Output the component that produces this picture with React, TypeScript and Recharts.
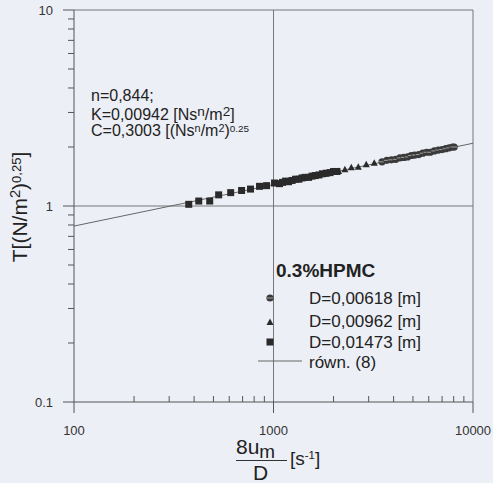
import { ScatterChart, Scatter, XAxis, YAxis, ReferenceLine } from 'recharts';

// D = 0,01473 m
const SQ_X = [376, 422, 479, 531, 610, 692, 767, 851, 923, 1012, 1072, 1110, 1150, 1190, 1240, 1290, 1340, 1390, 1440, 1500, 1560, 1620, 1690, 1760, 1840, 1920, 2000, 2080];
const SQ_T = [1.02, 1.06, 1.06, 1.14, 1.17, 1.2, 1.22, 1.26, 1.27, 1.31, 1.3, 1.32, 1.34, 1.33, 1.35, 1.37, 1.37, 1.39, 1.4, 1.4, 1.42, 1.43, 1.44, 1.46, 1.47, 1.48, 1.5, 1.5];

// D = 0,00962 m
const TRI_X = [1650, 1800, 1950, 2120, 2280, 2455, 2661, 2917, 3199];
const TRI_T = [1.44, 1.46, 1.49, 1.51, 1.54, 1.576, 1.587, 1.632, 1.663];

// D = 0,00618 m
const CIR_X = [3500, 3700, 3900, 4100, 4300, 4500, 4700, 4900, 5100, 5350, 5600, 5850, 6100, 6400, 6700, 7000, 7300, 7600, 7900, 8050];
const CIR_T = [1.68, 1.71, 1.72, 1.73, 1.76, 1.77, 1.78, 1.81, 1.82, 1.83, 1.86, 1.88, 1.88, 1.91, 1.93, 1.94, 1.96, 1.98, 2.0, 2.0];

// równ. (8)
const FIT_X = [100, 10000];
const FIT_T = [0.79, 2.09];

const X_TICKS = [100, 200, 300, 400, 500, 600, 700, 800, 900, 1000, 2000, 3000, 4000, 5000, 6000, 7000, 8000, 9000, 10000];
const X_MAJOR = [100, 1000, 10000];
const Y_TICKS = [0.1, 0.2, 0.3, 0.4, 0.5, 0.6, 0.7, 0.8, 0.9, 1, 2, 3, 4, 5, 6, 7, 8, 9, 10];
const Y_MAJOR = [0.1, 1, 10];

const zip = (xs: number[], ys: number[]) => xs.map((x, i) => ({ x, y: ys[i] }));

const FONT = 'Arial, "Liberation Sans", sans-serif';
const INK = '#2a2a2a';
const AXIS = '#555';

const XTick = (props: any) => {
  const { x, y, payload } = props;
  const major = X_MAJOR.includes(payload.value);
  return (
    <g>
      <line x1={x} x2={x} y1={y} y2={major ? y + 11 : y - 6} stroke={AXIS} strokeWidth={1} />
      {major && (
        <text x={x} y={y + 33} textAnchor="middle" fontSize={13} fontFamily={FONT} fill="#333">
          {payload.value}
        </text>
      )}
    </g>
  );
};

const YTick = (props: any) => {
  const { x, y, payload } = props;
  const major = Y_MAJOR.includes(payload.value);
  return (
    <g>
      <line x1={major ? x - 11 : x - 6} x2={x} y1={y} y2={y} stroke={AXIS} strokeWidth={1} />
      {major && (
        <text x={x - 21} y={y + 5} textAnchor="end" fontSize={13} fontFamily={FONT} fill="#333">
          {payload.value}
        </text>
      )}
    </g>
  );
};

const Square = (p: any) => <rect x={p.cx - 3.5} y={p.cy - 3.5} width={7} height={7} fill={INK} />;
const Triangle = (p: any) => (
  <polygon points={`${p.cx},${p.cy - 3.5} ${p.cx - 3.5},${p.cy + 3} ${p.cx + 3.5},${p.cy + 3}`} fill={INK} />
);
const Circle = (p: any) => (
  <g>
    <circle cx={p.cx} cy={p.cy} r={3.6} fill="#3a3a3a" />
    <line x1={p.cx - 3} x2={p.cx + 3} y1={p.cy} y2={p.cy} stroke="#bbb" strokeWidth={0.8} />
  </g>
);
const NoDot = () => null;

const abs = (left: number, top: number, extra: any = {}) => ({
  position: 'absolute' as const,
  left,
  top,
  lineHeight: 1,
  whiteSpace: 'nowrap' as const,
  color: '#222',
  ...extra,
});

// raised text that does not grow the line box
const up = (size: string, lift: string) => ({ fontSize: size, position: 'relative' as const, top: lift });

export default function App() {
  return (
    <div style={{ position: 'absolute', left: 0, top: 0, width: 493, height: 483, background: '#edeff6', fontFamily: FONT, overflow: 'hidden' }}>
      <ScatterChart width={493} height={483} margin={{ top: 10, right: 20, bottom: 0, left: 0 }}>
        <XAxis
          dataKey="x"
          type="number"
          scale="log"
          domain={[100, 10000]}
          ticks={X_TICKS}
          interval={0}
          allowDataOverflow
          height={81}
          tickSize={0}
          tickMargin={0}
          tickLine={false}
          tick={<XTick />}
          axisLine={{ stroke: AXIS }}
        />
        <YAxis
          dataKey="y"
          type="number"
          scale="log"
          domain={[0.1, 10]}
          ticks={Y_TICKS}
          interval={0}
          allowDataOverflow
          width={74}
          tickSize={0}
          tickMargin={0}
          tickLine={false}
          tick={<YTick />}
          axisLine={{ stroke: AXIS }}
        />
        <ReferenceLine x={1000} stroke="#777" strokeWidth={1} />
        <ReferenceLine x={10000} stroke="#777" strokeWidth={1} />
        <ReferenceLine y={1} stroke="#777" strokeWidth={1} />
        <ReferenceLine y={10} stroke="#777" strokeWidth={1} />
        <Scatter data={zip(FIT_X, FIT_T)} line={{ stroke: '#666', strokeWidth: 1 }} lineType="joint" shape={NoDot} isAnimationActive={false} />
        <Scatter data={zip(SQ_X, SQ_T)} shape={Square} isAnimationActive={false} />
        <Scatter data={zip(TRI_X, TRI_T)} shape={Triangle} isAnimationActive={false} />
        <Scatter data={zip(CIR_X, CIR_T)} shape={Circle} isAnimationActive={false} />
      </ScatterChart>

      {/* annotation */}
      <div style={abs(91, 88, { fontSize: 16 })}>n=0,844;</div>
      <div style={abs(91, 107, { fontSize: 16 })}>
        K=0,00942 [Ns<span style={up('0.85em', '-0.3em')}>n</span>/m<span style={up('0.85em', '-0.3em')}>2</span>]
      </div>
      <div style={abs(91, 123, { fontSize: 16 })}>
        C=0,3003 [(Ns<span style={up('0.68em', '-0.35em')}>n</span>/m<span style={up('0.68em', '-0.35em')}>2</span>)
        <span style={up('0.62em', '-0.45em')}>0.25</span>
      </div>

      {/* legend */}
      <div style={abs(276, 261, { fontSize: 19, fontWeight: 'bold' })}>0.3%HPMC</div>
      <svg style={{ position: 'absolute', left: 250, top: 285 }} width={60} height={85}>
        <Circle cx={20} cy={13} />
        <Triangle cx={20} cy={37} />
        <Square cx={20} cy={57} />
        <line x1={8} x2={52} y1={76} y2={76} stroke="#666" strokeWidth={1} />
      </svg>
      <div style={abs(309, 290, { fontSize: 17 })}>D=0,00618 [m]</div>
      <div style={abs(309, 313, { fontSize: 17 })}>D=0,00962 [m]</div>
      <div style={abs(309, 334, { fontSize: 17 })}>D=0,01473 [m]</div>
      <div style={abs(309, 354, { fontSize: 17 })}>równ. (8)</div>

      {/* y label */}
      <div
        style={abs(19, 207, {
          fontSize: 21,
          transform: 'translate(-50%, -50%) rotate(-90deg)',
        })}
      >
        T[(N/m<span style={up('0.7em', '-0.45em')}>2</span>)<span style={up('0.62em', '-0.5em')}>0,25</span>]
      </div>

      {/* x label */}
      <div style={abs(236, 436, { fontSize: 21 })}>
        8u<span style={up('0.9em', '0.2em')}>m</span>
      </div>
      <div style={{ position: 'absolute', left: 236, top: 460, width: 51, height: 1, background: '#333' }} />
      <div style={abs(253, 462, { fontSize: 21 })}>D</div>
      <div style={abs(290, 449, { fontSize: 19 })}>
        [s<span style={up('0.6em', '-0.5em')}>-1</span>]
      </div>
    </div>
  );
}
